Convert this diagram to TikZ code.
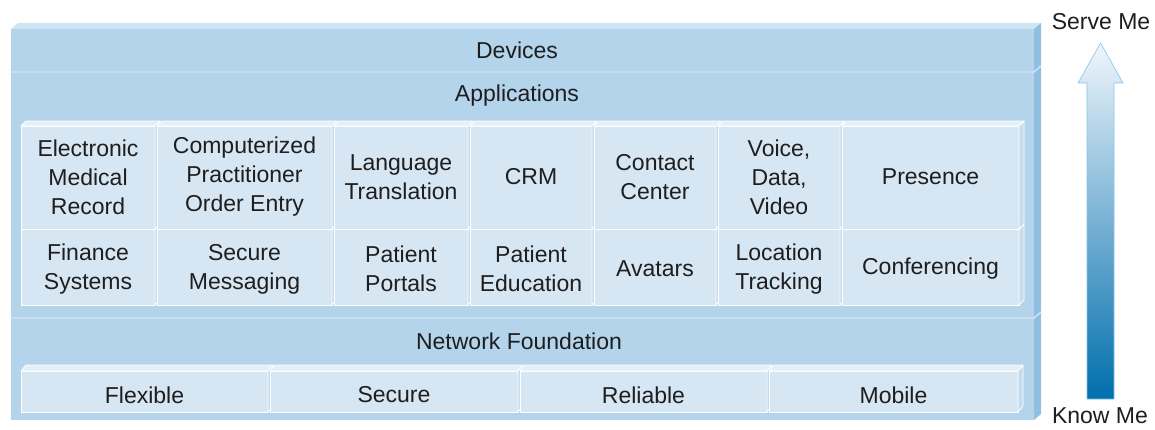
\documentclass[tikz,border=0pt]{standalone}
\usepackage{fontspec}
\setmainfont{Liberation Sans}
\usetikzlibrary{positioning}
\definecolor{slabfront}{RGB}{180,212,235}
\definecolor{slabtop}{RGB}{208,228,244}
\definecolor{slabside}{RGB}{143,192,226}
\definecolor{boxfront}{RGB}{214,230,243}
\definecolor{boxtop}{RGB}{228,239,248}
\definecolor{boxside}{RGB}{196,220,238}
\definecolor{arrowtop}{RGB}{240,246,252}
\definecolor{arrowmid}{RGB}{80,165,215}
\definecolor{arrowbot}{RGB}{0,110,172}
\definecolor{arrowline}{RGB}{135,195,232}
\definecolor{txt}{RGB}{30,30,30}

\begin{document}
\begin{tikzpicture}[x=1pt, y=-1pt,
    lbl/.style={text=txt, align=center, inner sep=0pt,
                font=\fontsize{23}{29}\selectfont},
    blk/.style={draw=white, line width=0.8pt, line join=round},
    sep/.style={draw=slabtop, line width=1.4pt}]
  \useasboundingbox (0,0) rectangle (1155,429);

  % stacked slab: Devices / Applications / Network Foundation
  \fill[slabtop] (11,29) -- (18,23) -- (1041,23) -- (1034,29) -- cycle;
  \foreach \ya/\yb in {29/72, 72/318, 318/420}{
    \fill[slabfront] (11,\ya) rectangle (1034,\yb);
    \fill[slabside] (1034,\ya) -- (1041,\ya-6) -- (1041,\yb-6) -- (1034,\yb) -- cycle;
  }
  \draw[sep] (11,72) -- (1034,72) -- (1041,66);
  \draw[sep] (11,318) -- (1034,318) -- (1041,312);

  \node[lbl] (devices) at (517,50) {Devices};
  \node[lbl] (apps) at (517,96) {Applications};
  \node[lbl] (netf) at (519,341) {Network Foundation};

  % applications, lower row first so the upper row sits on it
  \foreach \xa/\xb/\nm/\txt in {21/155/finance/{Finance\\Systems},
      157/332/securemsg/{Secure\\Messaging}, 334/468/portals/{Patient\\Portals},
      470/592/education/{Patient\\Education}, 594/716/avatars/{Avatars},
      718/840/location/{Location\\Tracking}, 842/1019/conferencing/{Conferencing}}{
    \filldraw[blk, fill=boxfront] (\xa,229) rectangle (\xb,305);
    \filldraw[blk, fill=boxside] (\xb,229) -- (\xb+5,224) -- (\xb+5,300) -- (\xb,305) -- cycle;
    \node[lbl] (\nm) at ({(\xa+\xb)/2},269) {\txt};
  }
  \foreach \xa/\xb/\nm/\txt in {21/155/emr/{Electronic\\Medical\\Record},
      157/332/cpoe/{Computerized\\Practitioner\\Order Entry},
      334/468/lang/{Language\\Translation}, 470/592/crm/{CRM},
      594/716/contact/{Contact\\Center}, 718/840/voice/{Voice,\\Data,\\Video},
      842/1019/presence/{Presence}}{
    \filldraw[blk, fill=boxfront] (\xa,126) rectangle (\xb,229);
    \filldraw[blk, fill=boxtop] (\xa,126) -- (\xa+5,121) -- (\xb+5,121) -- (\xb,126) -- cycle;
    \filldraw[blk, fill=boxside] (\xb,126) -- (\xb+5,121) -- (\xb+5,224) -- (\xb,229) -- cycle;
    \node[lbl] (\nm) at ({(\xa+\xb)/2},177) {\txt};
  }

  % network properties
  \foreach \xa/\xb/\nm/\txt in {21/268/flexible/Flexible, 270/518/secure/Secure,
      520/767/reliable/Reliable, 769/1018/mobile/Mobile}{
    \filldraw[blk, fill=boxfront] (\xa,371) rectangle (\xb,412);
    \filldraw[blk, fill=boxtop] (\xa,371) -- (\xa+5,365) -- (\xb+5,365) -- (\xb,371) -- cycle;
    \filldraw[blk, fill=boxside] (\xb,371) -- (\xb+5,365) -- (\xb+5,406) -- (\xb,412) -- cycle;
    \node[lbl] (\nm) at ({(\xa+\xb)/2},395) {\txt};
  }

  % Know Me -> Serve Me arrow
  \node[lbl] (serveme) at (1101,22) {Serve Me};
  \node[lbl] (knowme) at (1100,416) {Know Me};
  \shade[top color=arrowtop, middle color=arrowmid, bottom color=arrowbot,
         draw=arrowline, line width=0.6pt]
    (1087,399) -- (1087,83) -- (1078,83) -- (1100.5,43) -- (1123,83)
    -- (1114,83) -- (1114,399) -- cycle;
\end{tikzpicture}
\end{document}
